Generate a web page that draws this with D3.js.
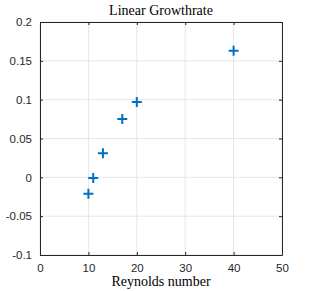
<!DOCTYPE html>
<html>
<head>
<meta charset="utf-8">
<script src="https://cdn.jsdelivr.net/npm/d3@7"></script>
<style>
  body { margin: 0; background: #fff; }
  .tick text { font-family: "Liberation Sans", Arial, sans-serif; font-size: 11.5px; fill: #262626; }
  .lbl { font-family: "Liberation Serif", "DejaVu Serif", serif; font-size: 14px; fill: #000; }
</style>
</head>
<body>
<div id="chart"></div>
<script>
var reynolds = [10, 11, 13, 17, 20, 40];
var growth = [-0.021, -0.001, 0.031, 0.075, 0.097, 0.163];
var xTicks = [0, 10, 20, 30, 40, 50];
var yTicks = [-0.1, -0.05, 0, 0.05, 0.1, 0.15, 0.2];

var width = 312, height = 291,
    margin = {top: 22, right: 30, bottom: 36, left: 40};

var svg = d3.select("#chart").append("svg")
    .attr("width", width)
    .attr("height", height);

var iw = width - margin.left - margin.right,
    ih = height - margin.top - margin.bottom;

var x = d3.scaleLinear().domain([0, 50]).range([0, iw]);
var y = d3.scaleLinear().domain([-0.1, 0.2]).range([ih, 0]);

var g = svg.append("g")
    .attr("transform", "translate(" + margin.left + "," + margin.top + ")");

// grid
g.append("g").selectAll("line").data(xTicks).enter().append("line")
    .attr("x1", function(d) { return x(d); }).attr("x2", function(d) { return x(d); })
    .attr("y1", 0).attr("y2", ih)
    .attr("stroke", "#e6e6e6").attr("stroke-width", 1);
g.append("g").selectAll("line").data(yTicks).enter().append("line")
    .attr("y1", function(d) { return y(d); }).attr("y2", function(d) { return y(d); })
    .attr("x1", 0).attr("x2", iw)
    .attr("stroke", "#e6e6e6").attr("stroke-width", 1);

// plain hyphen for negatives, like the original
function fmt(d) { return String(+d.toFixed(2)); }

var xAxis = g.append("g")
    .attr("transform", "translate(0," + ih + ")")
    .call(d3.axisBottom(x).tickValues(xTicks).tickSizeInner(-3).tickSizeOuter(0).tickPadding(9).tickFormat(fmt));
var yAxis = g.append("g")
    .call(d3.axisLeft(y).tickValues(yTicks).tickSizeInner(-3).tickSizeOuter(0).tickPadding(8).tickFormat(fmt));
var xTop = g.append("g")
    .call(d3.axisTop(x).tickValues(xTicks).tickSizeInner(-3).tickSizeOuter(0).tickFormat(""));
var yRight = g.append("g")
    .attr("transform", "translate(" + iw + ",0)")
    .call(d3.axisRight(y).tickValues(yTicks).tickSizeInner(-3).tickSizeOuter(0).tickFormat(""));

[xAxis, yAxis, xTop, yRight].forEach(function(a) {
  a.selectAll("path.domain").attr("stroke", "#262626");
  a.selectAll(".tick line").attr("stroke", "#262626");
});

// markers
var pts = reynolds.map(function(r, i) { return {x: r, y: growth[i]}; });
g.append("g").selectAll("path").data(pts).enter().append("path")
    .attr("d", function(d) {
      var cx = x(d.x), cy = y(d.y), s = 5;
      return "M" + (cx - s) + "," + cy + "H" + (cx + s) + "M" + cx + "," + (cy - s) + "V" + (cy + s);
    })
    .attr("stroke", "#0072BD").attr("stroke-width", 2).attr("fill", "none");

// title and label
svg.append("text").attr("class", "lbl")
    .attr("x", margin.left + iw / 2).attr("y", 15)
    .attr("text-anchor", "middle").text("Linear Growthrate");
svg.append("text").attr("class", "lbl")
    .attr("x", margin.left + iw / 2).attr("y", 286)
    .attr("text-anchor", "middle").text("Reynolds number");
</script>
</body>
</html>
